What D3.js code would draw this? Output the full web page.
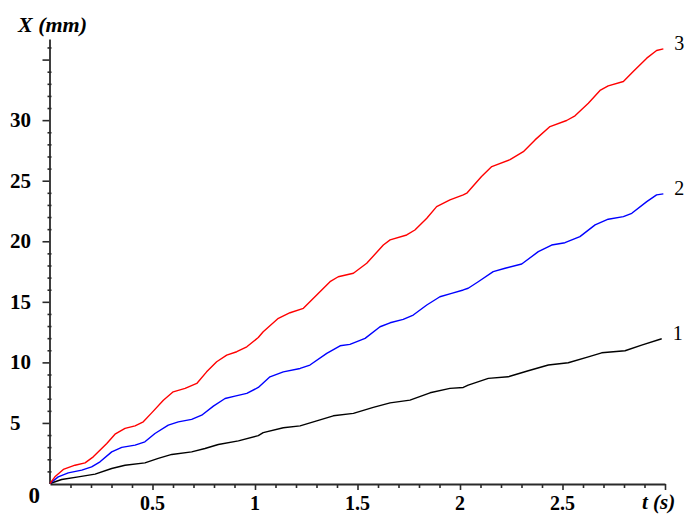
<!DOCTYPE html>
<html>
<head>
<meta charset="utf-8">
<script src="https://cdn.jsdelivr.net/npm/d3@7"></script>
<style>
  html, body { margin: 0; padding: 0; background: #fff; }
  svg { display: block; }
  text { font-family: "Liberation Serif", "Times New Roman", serif; fill: #000; }
</style>
</head>
<body>
<svg id="chart" width="687" height="515"></svg>
<script>
// ---- data ----
const series1T = [0, 0.057, 0.138, 0.220, 0.301, 0.366, 0.463, 0.528, 0.594, 0.691, 0.756, 0.821, 0.919, 1.016, 1.040, 1.138, 1.220, 1.301, 1.382, 1.480, 1.577, 1.659, 1.756, 1.854, 1.951, 2.016, 2.040, 2.138, 2.235, 2.333, 2.431, 2.528, 2.626, 2.691, 2.805, 2.886, 2.984];
const series1X = [0, 0.33, 0.55, 0.77, 1.24, 1.51, 1.70, 2.07, 2.40, 2.61, 2.89, 3.22, 3.52, 3.95, 4.20, 4.60, 4.76, 5.17, 5.59, 5.79, 6.28, 6.66, 6.88, 7.49, 7.85, 7.93, 8.12, 8.68, 8.81, 9.31, 9.78, 9.97, 10.46, 10.79, 10.96, 11.43, 11.95];

const series2T = [0, 0.040, 0.089, 0.155, 0.203, 0.244, 0.301, 0.350, 0.415, 0.463, 0.512, 0.577, 0.626, 0.691, 0.740, 0.797, 0.854, 0.902, 0.960, 1.016, 1.073, 1.138, 1.220, 1.268, 1.350, 1.415, 1.463, 1.537, 1.610, 1.659, 1.723, 1.772, 1.838, 1.902, 1.959, 2.016, 2.040, 2.089, 2.162, 2.220, 2.301, 2.382, 2.447, 2.512, 2.585, 2.659, 2.723, 2.797, 2.838, 2.911, 2.959, 2.992];
const series2X = [0, 0.55, 0.88, 1.10, 1.37, 1.79, 2.61, 2.98, 3.17, 3.44, 4.13, 4.82, 5.09, 5.29, 5.64, 6.39, 7.02, 7.21, 7.44, 7.93, 8.81, 9.22, 9.50, 9.78, 10.74, 11.37, 11.49, 11.98, 12.94, 13.27, 13.55, 13.91, 14.74, 15.42, 15.70, 15.98, 16.12, 16.66, 17.49, 17.77, 18.12, 19.14, 19.69, 19.88, 20.38, 21.35, 21.82, 22.03, 22.31, 23.27, 23.83, 23.91];

const series3T = [0, 0.024, 0.065, 0.122, 0.171, 0.211, 0.277, 0.317, 0.366, 0.415, 0.455, 0.496, 0.553, 0.601, 0.659, 0.716, 0.764, 0.813, 0.862, 0.911, 0.960, 1.016, 1.040, 1.114, 1.171, 1.236, 1.301, 1.366, 1.406, 1.480, 1.545, 1.626, 1.659, 1.740, 1.780, 1.838, 1.886, 1.951, 2.016, 2.033, 2.105, 2.155, 2.244, 2.309, 2.366, 2.439, 2.520, 2.561, 2.626, 2.683, 2.723, 2.797, 2.845, 2.911, 2.959, 2.992];
const series3X = [0, 0.55, 1.16, 1.51, 1.70, 2.20, 3.31, 4.07, 4.55, 4.76, 5.09, 5.83, 6.88, 7.57, 7.85, 8.26, 9.22, 10.05, 10.60, 10.88, 11.29, 12.05, 12.53, 13.64, 14.10, 14.46, 15.56, 16.66, 17.07, 17.36, 18.18, 19.69, 20.11, 20.52, 20.93, 21.90, 22.86, 23.41, 23.83, 23.97, 25.34, 26.17, 26.74, 27.40, 28.37, 29.47, 29.97, 30.36, 31.40, 32.45, 32.83, 33.19, 34.02, 35.12, 35.75, 35.89];

const seriesNames = ["1", "2", "3"];
const seriesColors = ["#000000", "#0000ff", "#ff0000"];

const xTickLabels = [0.5, 1, 1.5, 2, 2.5];
const yTickLabels = [5, 10, 15, 20, 25, 30];
const xMinorTicks = d3.range(1, 31).map(i => i / 10);
const yMinorTicks = d3.range(1, 37);
const xDomain = [0, 3];
const yDomain = [0, 36.7];
const xTitle = "t (s)";
const yTitle = "X (mm)";

// ---- drawing ----
const svg = d3.select("#chart");
const x = d3.scaleLinear().domain(xDomain).range([50, 665]);
const y = d3.scaleLinear().domain(yDomain).range([483.5, 39]);

const axisColor = "#2a2a2a";

// Y axis minor ticks
const yMinorAxis = d3.axisLeft(y)
  .tickValues(yMinorTicks.filter(v => v % 5 !== 0))
  .tickSize(4).tickFormat("");
svg.append("g").attr("transform", "translate(51.5,0)").call(yMinorAxis)
  .call(g => g.select(".domain").remove())
  .call(g => g.selectAll("line").attr("stroke", axisColor).attr("stroke-width", 1.6));

// Y axis major ticks + domain
const yMajorAxis = d3.axisLeft(y)
  .tickValues(yMinorTicks.filter(v => v % 5 === 0))
  .tickSize(7).tickSizeOuter(0).tickFormat("");
svg.append("g").attr("transform", "translate(49.5,0)").call(yMajorAxis)
  .call(g => g.select(".domain").attr("stroke", axisColor).attr("stroke-width", 1.8))
  .call(g => g.selectAll("line").attr("stroke", axisColor).attr("stroke-width", 1.6));

// X axis minor ticks
const xMinorAxis = d3.axisBottom(x)
  .tickValues(xMinorTicks.filter(v => Math.abs(v * 2 - Math.round(v * 2)) > 1e-6))
  .tickSize(4).tickFormat("");
svg.append("g").attr("transform", "translate(0,484)").call(xMinorAxis)
  .call(g => g.select(".domain").remove())
  .call(g => g.selectAll("line").attr("stroke", axisColor).attr("stroke-width", 1.6));

// X axis major ticks + domain
const xMajorAxis = d3.axisBottom(x)
  .tickValues(xMinorTicks.filter(v => Math.abs(v * 2 - Math.round(v * 2)) <= 1e-6))
  .tickSize(6).tickSizeOuter(0).tickFormat("");
svg.append("g").attr("transform", "translate(0,484)").call(xMajorAxis)
  .call(g => g.select(".domain").attr("stroke", axisColor).attr("stroke-width", 1.8))
  .call(g => g.selectAll("line").attr("stroke", axisColor).attr("stroke-width", 1.6));

// Tick labels
svg.append("g").selectAll("text").data(yTickLabels).join("text")
  .attr("x", 10).attr("y", d => y(d) + 7)
  .attr("text-anchor", "start")
  .attr("font-size", 21).attr("font-weight", "bold")
  .text(d => d);

svg.append("g").selectAll("text").data(xTickLabels).join("text")
  .attr("x", d => x(d)).attr("y", 510)
  .attr("text-anchor", "middle")
  .attr("font-size", 20).attr("font-weight", "bold")
  .text(d => d);

svg.append("text")
  .attr("x", x(0) - 10).attr("y", 503)
  .attr("text-anchor", "end")
  .attr("font-size", 23).attr("font-weight", "bold")
  .text("0");

// Axis titles
svg.append("text")
  .attr("x", 18).attr("y", 32)
  .attr("font-size", 22).attr("font-weight", "bold").attr("font-style", "italic")
  .text(yTitle);

svg.append("text")
  .attr("x", 642).attr("y", 509)
  .attr("font-size", 21).attr("font-weight", "bold").attr("font-style", "italic")
  .text(xTitle);

// Lines
const allT = [series1T, series2T, series3T];
const allX = [series1X, series2X, series3X];
const line = d3.line().x(d => x(d[0])).y(d => y(d[1]));

allT.forEach((ts, i) => {
  const pts = ts.map((t, j) => [t, allX[i][j]]);
  svg.append("path")
    .datum(pts)
    .attr("fill", "none")
    .attr("stroke", seriesColors[i])
    .attr("stroke-width", 1.4)
    .attr("stroke-linejoin", "round")
    .attr("d", line);
  const last = pts[pts.length - 1];
  svg.append("text")
    .attr("x", x(last[0]) + 11)
    .attr("y", y(last[1]) + 1)
    .attr("font-size", 20)
    .text(seriesNames[i]);
});
</script>
</body>
</html>
